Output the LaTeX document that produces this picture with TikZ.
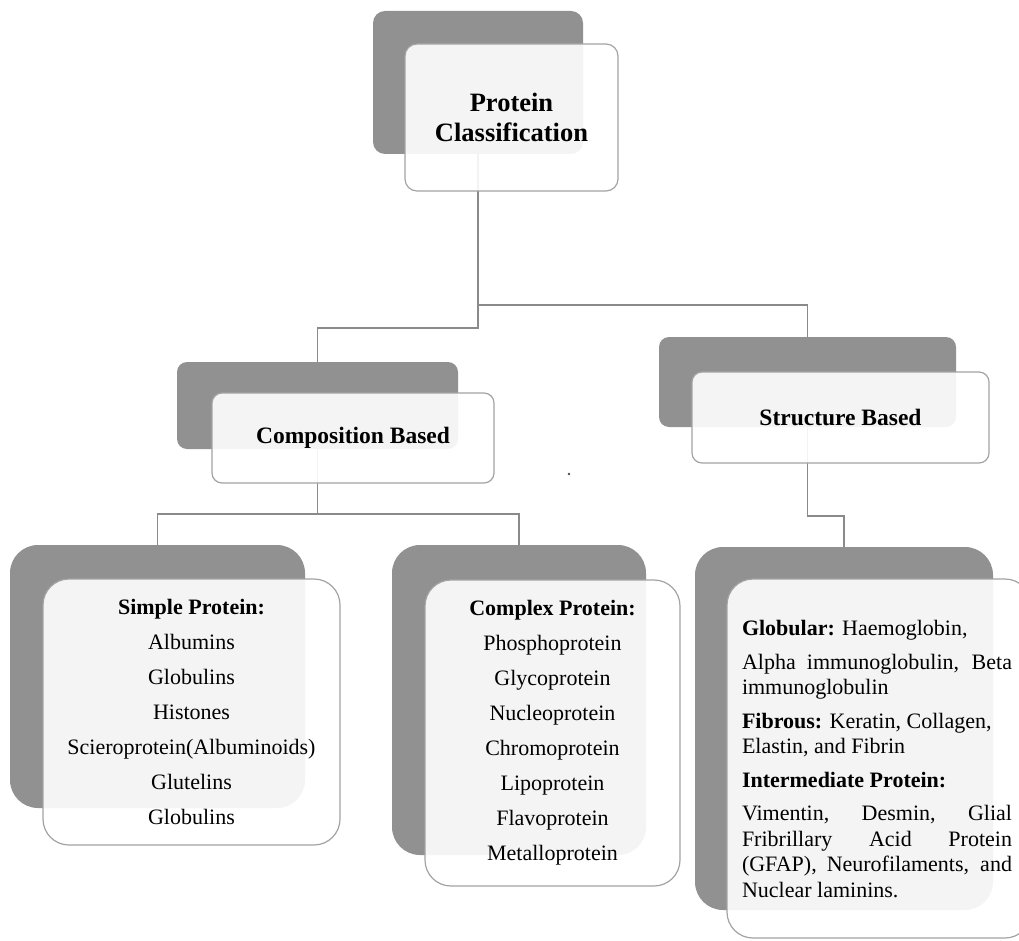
\documentclass[tikz,border=0pt]{standalone}
\usepackage{fontspec}
\setmainfont{Liberation Serif}
\usetikzlibrary{backgrounds}
\definecolor{backgray}{HTML}{919191}
\definecolor{edgegray}{HTML}{A3A3A3}
\definecolor{linegray}{HTML}{8A8A8A}
\tikzset{
  backbox/.style={fill=backgray, draw=none, inner sep=0pt, anchor=center},
  frontbox/.style={fill=white, fill opacity=0.9, text opacity=1, draw=edgegray, line width=1.2pt, inner sep=0pt, anchor=center, align=center},
  conn/.style={draw=linegray, line width=1.4pt},
  titlefont/.style={font={\fontsize{26.5}{30}\selectfont\bfseries}},
  midfont/.style={font={\fontsize{23.5}{28}\selectfont\bfseries}},
  bodyfont/.style={font={\fontsize{22}{35}\selectfont}},
}
\begin{document}
\begin{tikzpicture}[x=1pt,y=-1pt]
\useasboundingbox (0,0) rectangle (1019,941);
\clip (0,0) rectangle (1019,941);

% junction levels
\coordinate (j1) at (0,328);
\coordinate (j2) at (0,305);
\coordinate (j3) at (0,514);
\coordinate (j4) at (0,516);

% back boxes
\node[backbox, rounded corners=12pt, minimum width=210pt, minimum height=143pt] (tb) at (478,82.5) {};
\node[backbox, rounded corners=10pt, minimum width=281pt, minimum height=87pt] (cb) at (317.5,405.5) {};
\node[backbox, rounded corners=10pt, minimum width=297pt, minimum height=90pt] (sb) at (807.5,382) {};
\node[backbox, rounded corners=28pt, minimum width=295pt, minimum height=263pt] (simb) at (157.5,676.5) {};
\node[backbox, rounded corners=28pt, minimum width=254pt, minimum height=310pt] (cpb) at (519,700) {};
\node[backbox, rounded corners=28pt, minimum width=298pt, minimum height=363pt] (rb) at (844,728.5) {};

% connectors, beneath the boxes
\begin{scope}[on background layer]
\draw[conn] (tb.center) -- (tb.center |- j1) -| (cb.north);
\draw[conn] (tb.center |- j2) -| (sb.north);
\draw[conn] (cb.center) -- (cb.center |- j3) -| (simb.north);
\draw[conn] (cb.center |- j3) -| (cpb.north);
\draw[conn] (sb.center) -- (sb.center |- j4) -| (rb.north);
\end{scope}

% front boxes with text
\node[frontbox, titlefont, rounded corners=12pt, minimum width=213pt, minimum height=147pt] (tf) at (511.5,117.5) {Protein\\Classification};
\node[frontbox, midfont, rounded corners=10pt, minimum width=282pt, minimum height=90pt] (cf) at (353,438) {Composition Based};
\node[frontbox, midfont, rounded corners=10pt, minimum width=297pt, minimum height=91pt] (sf) at (840.5,417.5) {Structure Based};
\node[frontbox, bodyfont, rounded corners=26pt, minimum width=297pt, minimum height=266pt] (simf) at (191.5,712)
  {\textbf{Simple Protein:}\\Albumins\\Globulins\\Histones\\Scieroprotein(Albuminoids)\\Glutelins\\Globulins};
\node[frontbox, bodyfont, rounded corners=26pt, minimum width=255pt, minimum height=306pt] (cpf) at (552.5,733)
  {\textbf{Complex Protein:}\\Phosphoprotein\\Glycoprotein\\Nucleoprotein\\Chromoprotein\\Lipoprotein\\Flavoprotein\\Metalloprotein};
\node[frontbox, rounded corners=26pt, minimum width=304pt, minimum height=359pt] (rf) at (879,758.5) {};
\node[inner sep=0pt, anchor=center] (rtext) at (877,759)
  {\parbox{270pt}{\fontsize{22}{25.5}\selectfont\setlength{\parskip}{8pt}\setlength{\parindent}{0pt}%
  \textbf{Globular:} Haemoglobin,\par
  Alpha immunoglobulin, Beta\linebreak immunoglobulin\par
  \textbf{Fibrous:} Keratin, Collagen,\\ Elastin, and Fibrin\par
  \textbf{Intermediate Protein:}\par
  Vimentin, Desmin, Glial\linebreak Fribrillary Acid Protein\linebreak (GFAP), Neurofilaments, and\linebreak Nuclear laminins.}};

% stray dot
\fill[black!70] (569,474) circle (1.3pt);
\end{tikzpicture}
\end{document}
